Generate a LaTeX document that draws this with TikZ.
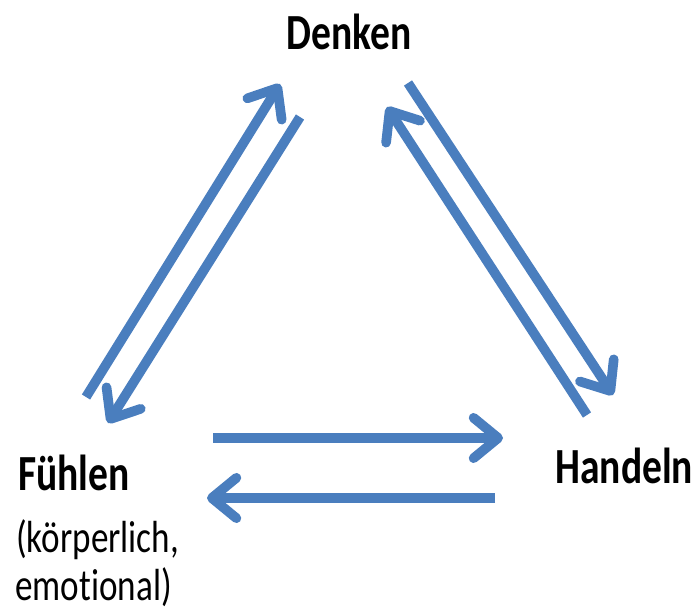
\documentclass[tikz,border=0pt]{standalone}
\usepackage{fontspec}
\usepackage{graphicx}
\setmainfont[Ligatures=NoCommon]{Carlito}
\usetikzlibrary{arrows.meta}

\definecolor{pfeilblau}{RGB}{74,126,190}
\newcommand{\hoch}[1]{\scalebox{1}[1.28]{#1}}
\tikzset{
	pfeil/.style={draw=pfeilblau, line width=5.5pt, -{Straight Barb[length=14pt, width=23pt, round]}},
	begriff/.style={font=\fontsize{22.5}{27}\selectfont\bfseries, inner sep=0pt},
	zusatz/.style={font=\fontsize{20}{27}\selectfont, inner sep=0pt}
}

\begin{document}
\begin{tikzpicture}[x=0.02cm, y=-0.02cm]
	\useasboundingbox (0,0) rectangle (699,611);
	
	\node[begriff, anchor=base] (denken) at (349,50) {\hoch{Denken}};
	\node[begriff, anchor=base west] (fuehlen) at (18,490) {\hoch{Fühlen}};
	\node[zusatz, anchor=base west] (koerper) at (16,552) {\hoch{(körperlich,}};
	\node[zusatz, anchor=base west] (emotion) at (15,600) {\hoch{emotional)}};
	\node[begriff, anchor=base west] (handeln) at (555,483) {\hoch{Handeln}};
	
	\coordinate (fd1) at (86,397);
	\coordinate (fd2) at (280,84);
	\coordinate (df1) at (300,117);
	\coordinate (df2) at (108,423);
	\coordinate (dh1) at (408,83);
	\coordinate (dh2) at (613,395);
	\coordinate (hd1) at (587,415);
	\coordinate (hd2) at (387,107);
	\coordinate (fh1) at (213,438);
	\coordinate (fh2) at (503,438);
	\coordinate (hf1) at (495,498);
	\coordinate (hf2) at (207,498);
	
	\draw[pfeil] (fd1) -- (fd2);
	\draw[pfeil] (df1) -- (df2);
	\draw[pfeil] (dh1) -- (dh2);
	\draw[pfeil] (hd1) -- (hd2);
	\draw[pfeil] (fh1) -- (fh2);
	\draw[pfeil] (hf1) -- (hf2);
\end{tikzpicture}
\end{document}
